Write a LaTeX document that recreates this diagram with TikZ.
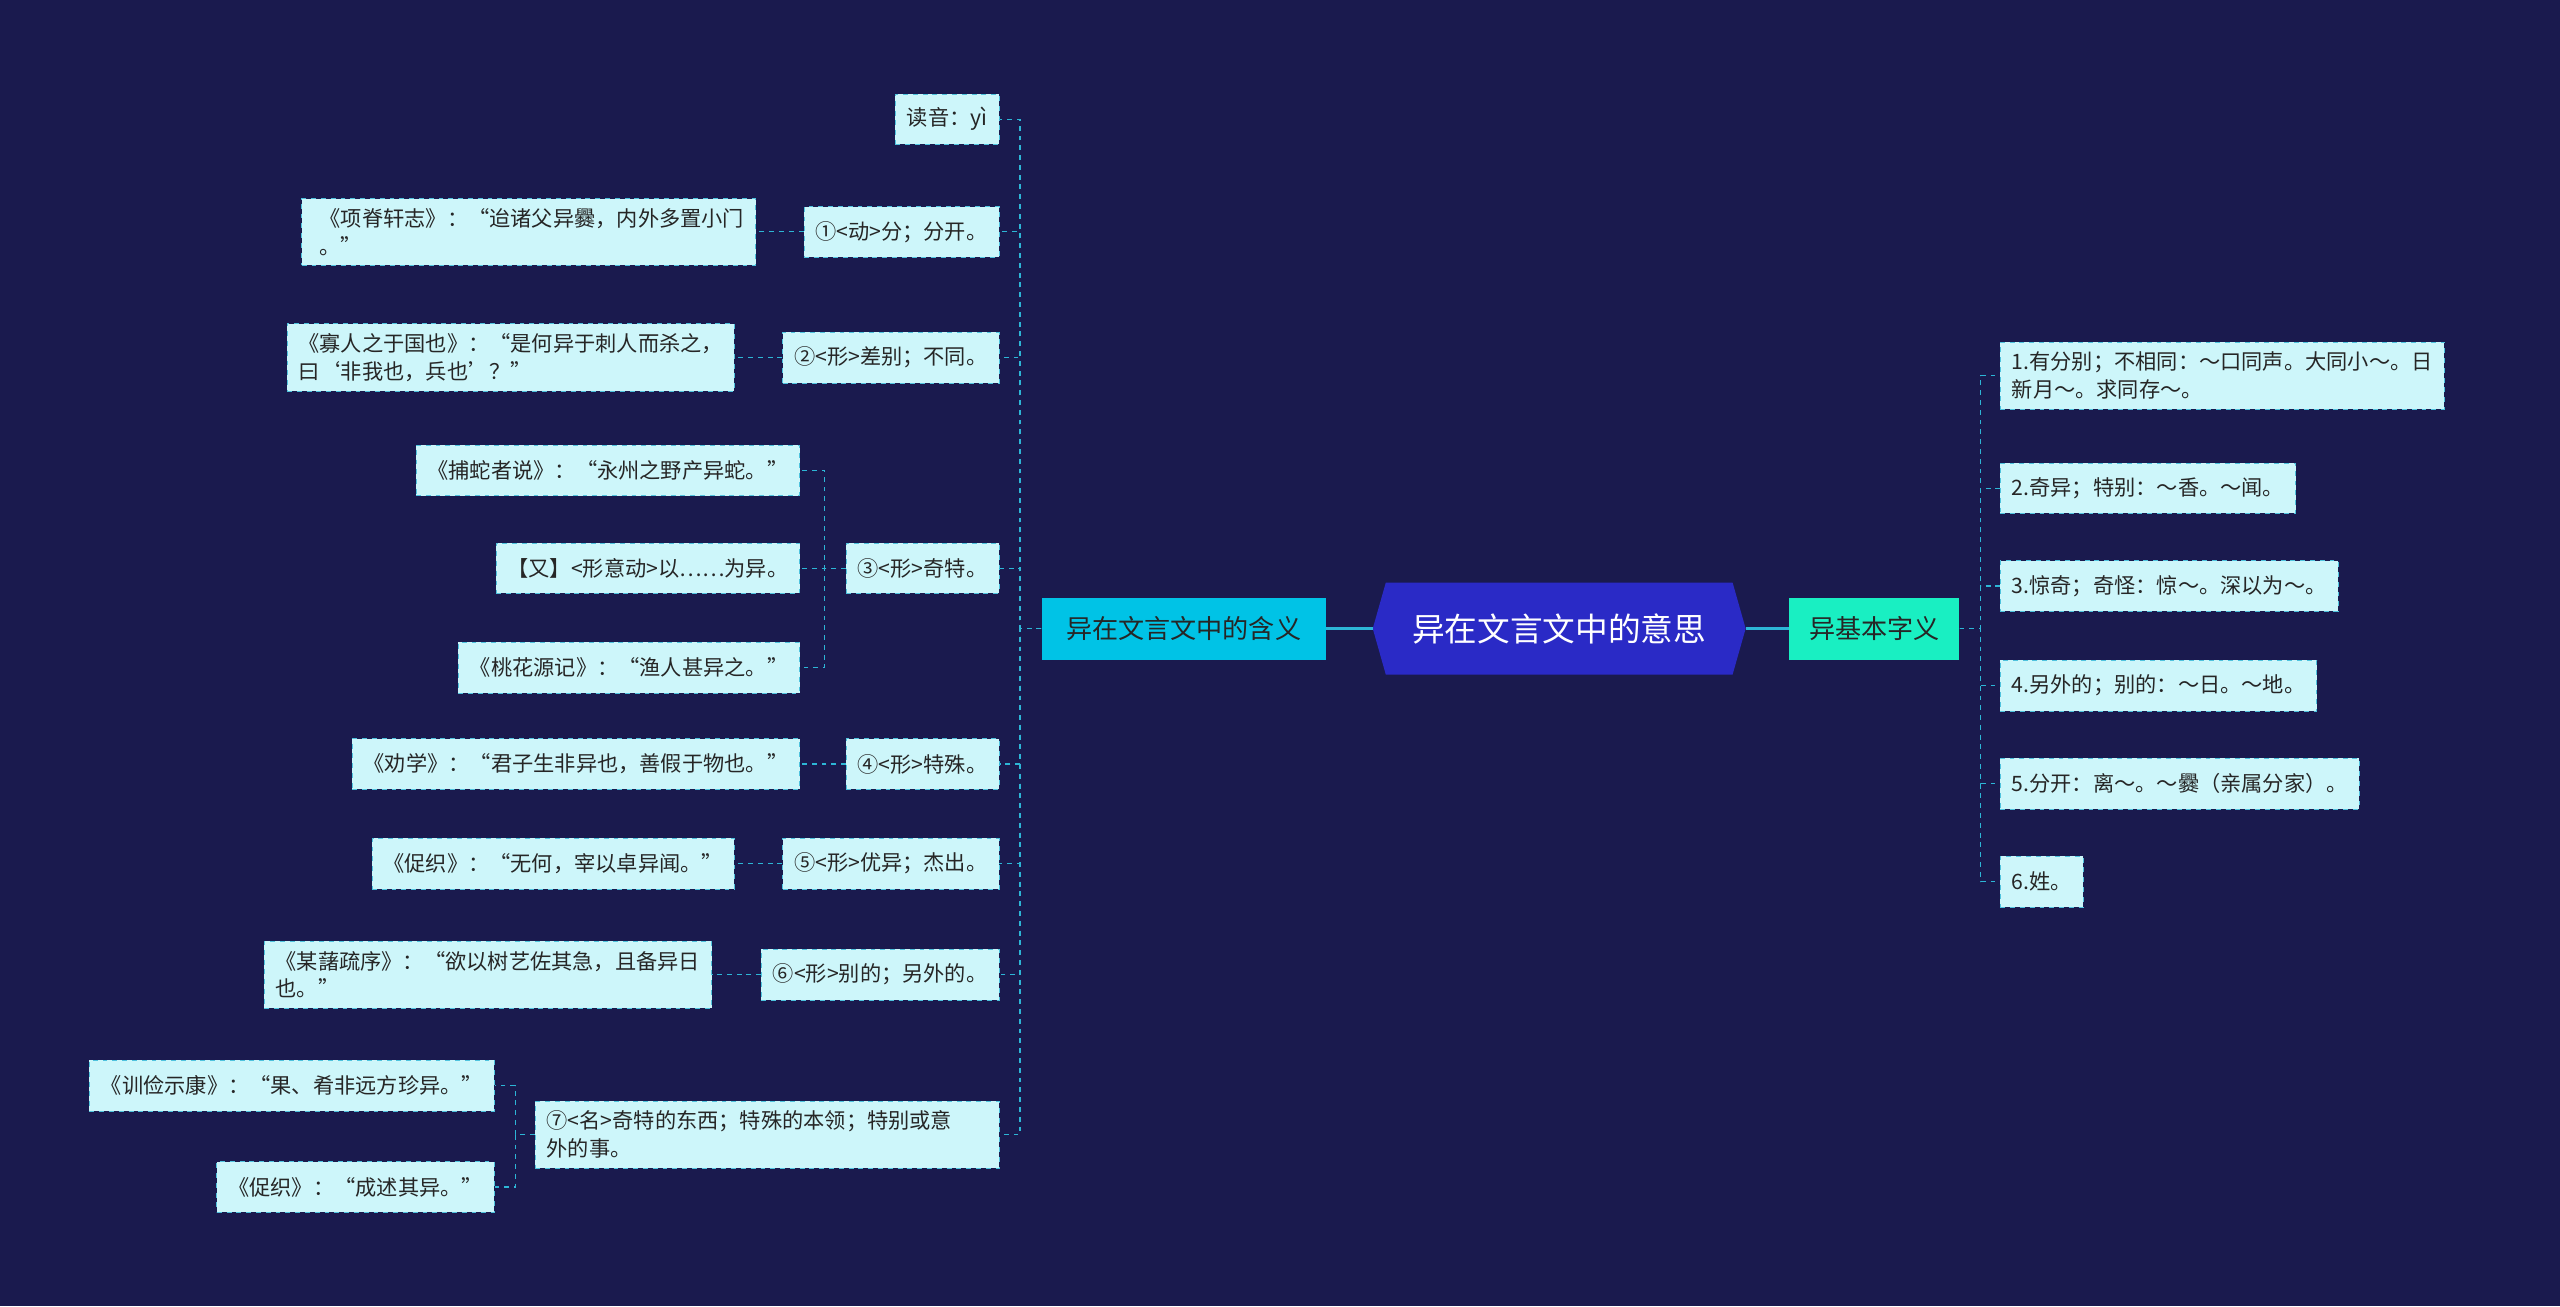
\documentclass[tikz,border=0pt]{standalone}
\usepackage{fontspec}
\setmainfont{Noto Sans CJK SC}
\usetikzlibrary{calc}
\definecolor{bg}{HTML}{1A1A4E}
\definecolor{leaf}{HTML}{CDF6FA}
\definecolor{leafb}{HTML}{4FC3DE}
\definecolor{conn}{HTML}{2DB6D6}
\definecolor{lmain}{HTML}{00C3E6}
\definecolor{rmain}{HTML}{19EFC2}
\definecolor{cmain}{HTML}{2A2AC6}
\tikzset{
 leafbox/.style={fill=leaf,draw=leafb,dashed,text=black!85,font=\fontsize{13}{17}\selectfont,inner xsep=7pt,inner ysep=0pt,minimum height=31pt,align=left},
 wide/.style={inner ysep=6pt},
 cline/.style={draw=conn,dashed,line width=0.8pt},
 sline/.style={draw=conn,line width=1.4pt},
}
\begin{document}
\begin{tikzpicture}[x=1pt,y=-1pt]
\fill[bg] (0,0) rectangle (1568,800);
\useasboundingbox (0,0) rectangle (1568,800);
% center
\node[minimum width=212pt,minimum height=56pt,inner sep=0pt] (c) at (955,385) {};
\fill[cmain] (c.north west) -- (c.north east) -- ($(c.east)+(8,0)$) -- (c.south east) -- (c.south west) -- ($(c.west)+(-8,0)$) -- cycle;
\node[font=\fontsize{20}{24}\selectfont,text=white] at (c) {异在文言文中的意思};
\node[fill=lmain,font=\fontsize{16}{19}\selectfont,text=black!85,minimum width=174pt,minimum height=38pt,inner sep=0pt] (lm) at (725,385) {异在文言文中的含义};
\node[fill=rmain,font=\fontsize{16}{19}\selectfont,text=black!85,minimum width=104pt,minimum height=38pt,inner sep=0pt] (rm) at (1148,385) {异基本字义};
\draw[sline] ($(c.west)+(-8,0)$) -- (lm.east);
\draw[sline] ($(c.east)+(8,0)$) -- (rm.west);
% left children
\node[leafbox,anchor=east] (a0) at (612,73) {读音：yì};
\node[leafbox,anchor=east] (a1) at (612,142) {①<动>分；分开。};
\node[leafbox,anchor=east] (a2) at (612,219) {②<形>差别；不同。};
\node[leafbox,anchor=east] (a3) at (612,348) {③<形>奇特。};
\node[leafbox,anchor=east] (a4) at (612,468) {④<形>特殊。};
\node[leafbox,anchor=east] (a5) at (612,529) {⑤<形>优异；杰出。};
\node[leafbox,anchor=east] (a6) at (612,597) {⑥<形>别的；另外的。};
\node[leafbox,anchor=east,wide,text width=270pt] (a7) at (612,695) {⑦<名>奇特的东西；特殊的本领；特别或意\\外的事。};
\foreach \n in {a0,a1,a2,a3,a4,a5,a6,a7}
  \draw[cline] (lm.west) -- ++(-13,0) |- (\n.east);
% grandchildren
\node[leafbox,anchor=east,wide] (g1) at (463,142) {\hspace*{4pt}《项脊轩志》：“迨诸父异爨，内外多置小门\\\hspace*{4pt}。”};
\draw[cline] (a1.west) -- (g1.east);
\node[leafbox,anchor=east,wide] (g2) at (450,219) {《寡人之于国也》：“是何异于刺人而杀之，\\曰‘非我也，兵也’？”};
\draw[cline] (a2.west) -- (g2.east);
\node[leafbox,anchor=east] (g3a) at (490,288) {《捕蛇者说》：“永州之野产异蛇。”};
\node[leafbox,anchor=east] (g3b) at (490,348) {【又】<形意动>以……为异。};
\node[leafbox,anchor=east] (g3c) at (490,409) {《桃花源记》：“渔人甚异之。”};
\foreach \n in {g3a,g3b,g3c}
  \draw[cline] (a3.west) -- ++(-13,0) |- (\n.east);
\node[leafbox,anchor=east] (g4) at (490,468) {《劝学》：“君子生非异也，善假于物也。”};
\draw[cline] (a4.west) -- (g4.east);
\node[leafbox,anchor=east] (g5) at (450,529) {《促织》：“无何，宰以卓异闻。”};
\draw[cline] (a5.west) -- (g5.east);
\node[leafbox,anchor=east,wide] (g6) at (436,597) {《某藷疏序》：“欲以树艺佐其急，且备异日\\也。”};
\draw[cline] (a6.west) -- (g6.east);
\node[leafbox,anchor=east] (g7a) at (303,665) {《训俭示康》：“果、肴非远方珍异。”};
\node[leafbox,anchor=east] (g7b) at (303,727) {《促织》：“成述其异。”};
\foreach \n in {g7a,g7b}
  \draw[cline] (a7.west) -- ++(-12,0) |- (\n.east);
% right children
\node[leafbox,anchor=west,wide] (b1) at (1225,230) {1.有分别；不相同：～口同声。大同小～。日\\新月～。求同存～。};
\node[leafbox,anchor=west] (b2) at (1225,299) {2.奇异；特别：～香。～闻。};
\node[leafbox,anchor=west] (b3) at (1225,359) {3.惊奇；奇怪：惊～。深以为～。};
\node[leafbox,anchor=west] (b4) at (1225,420) {4.另外的；别的：～日。～地。};
\node[leafbox,anchor=west] (b5) at (1225,480) {5.分开：离～。～爨（亲属分家）。};
\node[leafbox,anchor=west] (b6) at (1225,540) {6.姓。};
\foreach \n in {b1,b2,b3,b4,b5,b6}
  \draw[cline] (rm.east) -- ++(13,0) |- (\n.west);
\end{tikzpicture}
\end{document}
